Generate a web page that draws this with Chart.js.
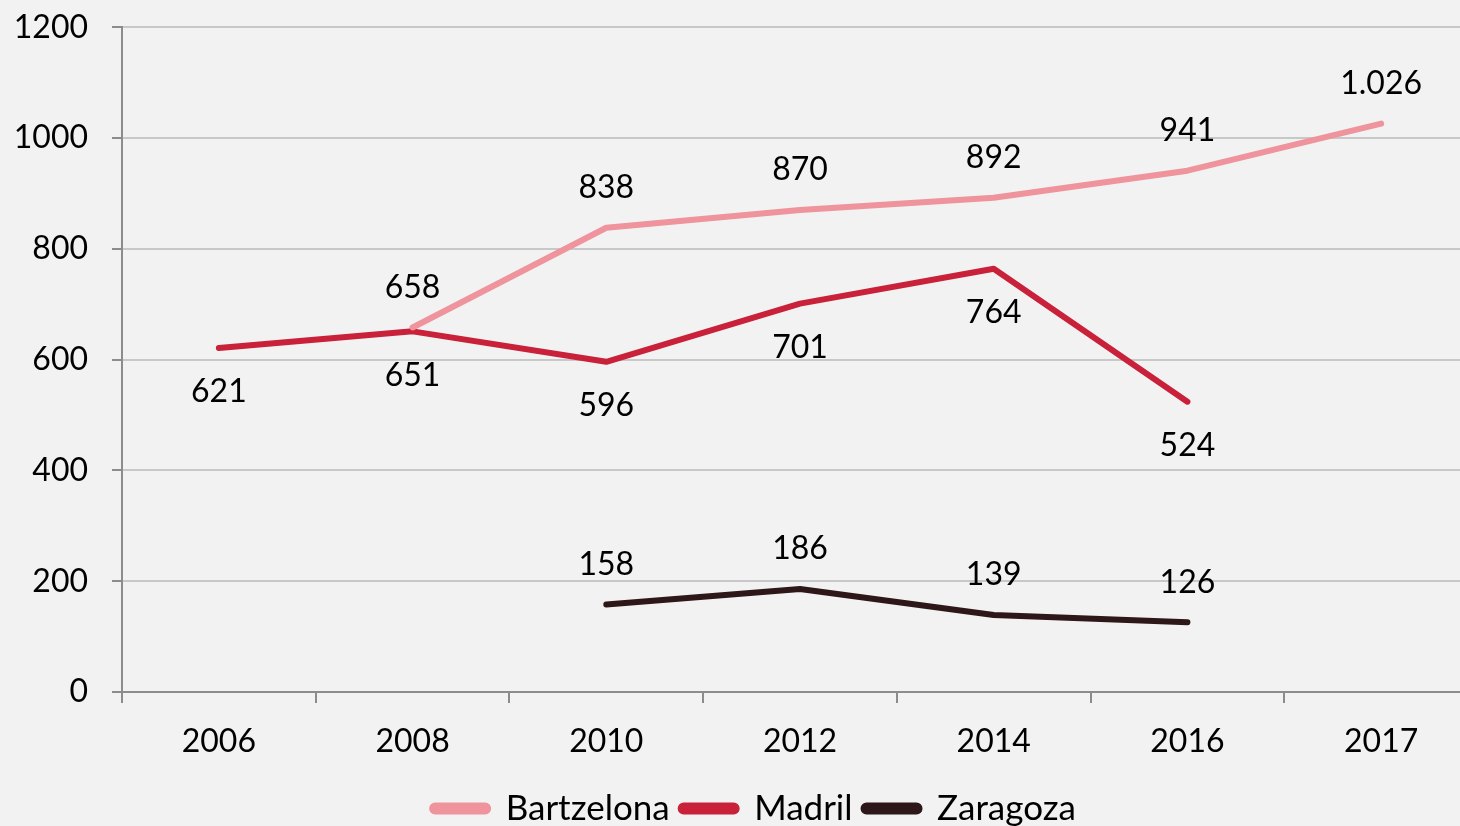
<!DOCTYPE html>
<html lang="eu">
<head>
  <meta charset="UTF-8">
  <title>Bartzelona, Madril, Zaragoza</title>
  <script src="https://cdn.jsdelivr.net/npm/chart.js"></script>
  <style>
    html, body { margin: 0; padding: 0; background: #f2f2f2; overflow: hidden; }
    #wrap { position: absolute; left: 0; top: -16px; width: 1508px; height: 852px; }
  </style>
</head>
<body>
  <div id="wrap"><canvas id="chart"></canvas></div>

  <script>
    const years = ['2006', '2008', '2010', '2012', '2014', '2016', '2017'];
    const bartzelona = [null, 658, 838, 870, 892, 941, 1026];
    const madril = [621, 651, 596, 701, 764, 524, null];
    const zaragoza = [null, null, 158, 186, 139, 126, null];
    const seriesNames = ['Bartzelona', 'Madril', 'Zaragoza'];
    const labelSide = ['above', 'below', 'above'];

    const FONT = 'Lato, "Open Sans", sans-serif';
    const colors = ['#ef939d', '#c9213a', '#2d1719'];

    // value labels drawn next to each point
    const pointLabels = {
      id: 'pointLabels',
      afterDatasetsDraw(chart) {
        const ctx = chart.ctx;
        ctx.save();
        ctx.font = '32px ' + FONT;
        ctx.fillStyle = '#000';
        ctx.textAlign = 'center';
        ctx.textBaseline = 'middle';
        chart.data.datasets.forEach((ds, i) => {
          chart.getDatasetMeta(i).data.forEach((pt, j) => {
            const v = ds.data[j];
            if (v === null) return;
            const dy = labelSide[i] === 'above' ? -40 : 44;
            ctx.fillText(v.toLocaleString('de-DE'), pt.x, pt.y + dy);
          });
        });
        ctx.restore();
      }
    };

    const datasets = [bartzelona, madril, zaragoza].map((data, i) => ({
      label: seriesNames[i],
      data: data,
      borderColor: colors[i],
      backgroundColor: colors[i],
      borderWidth: 6,
      borderCapStyle: 'round',
      borderJoinStyle: 'round',
      pointRadius: 0,
      tension: 0,
      spanGaps: false
    }));

    new Chart(document.getElementById('chart'), {
      type: 'line',
      data: { labels: years, datasets: datasets },
      plugins: [pointLabels],
      options: {
        responsive: true,
        maintainAspectRatio: false,
        animation: false,
        layout: { padding: { top: 11, right: 0, left: 0, bottom: 0 } },
        plugins: {
          tooltip: { enabled: false },
          legend: {
            position: 'bottom',
            labels: {
              color: '#000',
              font: { family: FONT, size: 35 },
              boxWidth: 56,
              boxHeight: 6,
              useBorderRadius: true,
              borderRadius: 3,
              padding: 11
            }
          }
        },
        scales: {
          x: {
            offset: true,
            grid: { offset: true, drawOnChartArea: false, tickLength: 11, tickColor: '#8c8c8c', lineWidth: 2 },
            border: { color: '#8c8c8c', width: 2 },
            ticks: { color: '#000', font: { family: FONT, size: 32 }, padding: 19, maxRotation: 0 },
            afterFit: s => { s.height = 88; }
          },
          y: {
            min: 0,
            max: 1200,
            ticks: {
              stepSize: 200,
              color: '#000',
              font: { family: FONT, size: 32 },
              padding: 24,
              callback: v => String(v)
            },
            grid: { color: '#c8c8c8', lineWidth: 2, tickLength: 10, tickColor: '#8c8c8c' },
            border: { color: '#8c8c8c', width: 2 },
            afterFit: s => { s.width = 122; }
          },
          // empty strip on the right, the original plot runs past the picture edge
          yRight: {
            position: 'right',
            grid: { display: false },
            border: { display: false },
            ticks: { display: false },
            afterFit: s => { s.width = 30; }
          }
        }
      }
    });
  </script>
</body>
</html>
